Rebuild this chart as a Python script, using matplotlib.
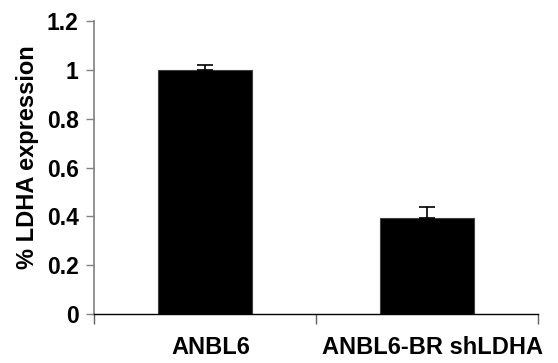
import matplotlib.pyplot as plt
import matplotlib.transforms as mtransforms

plt.rcParams['font.family'] = ['Liberation Sans', 'DejaVu Sans']
plt.rcParams['font.weight'] = 'bold'

# ------------ DATA -----------------
categories = ['ANBL6', 'ANBL6-BR shLDHA']
values = [1.0, 0.392]
errors = [0.018, 0.046]
yticks = [0, 0.2, 0.4, 0.6, 0.8, 1, 1.2]
ytick_labels = ['0', '0.2', '0.4', '0.6', '0.8', '1', '1.2']

# ------------ FIGURE -----------------
fig = plt.figure(figsize=(5.58, 3.63), dpi=100)
ax = fig.add_axes([0.1685, 0.135, 0.7955, 0.807])

pos = list(range(len(categories)))
ax.bar(pos, values, width=0.42, color='black', edgecolor='#404040',
       linewidth=0.8, zorder=2)
ax.errorbar(pos, values, yerr=[[0, 0], errors], fmt='none', ecolor='black',
            elinewidth=1.2, capsize=6, capthick=1.2, zorder=3)

ax.set_xlim(-0.5, 1.5)
ax.set_ylim(0, 1.2)
ax.set_yticks(yticks)
ax.set_yticklabels(ytick_labels, fontsize=16.5, fontweight='bold')
ax.set_xticks(pos)
ax.set_xticklabels(categories, fontsize=17, fontweight='bold')
ax.set_xticks([-0.5, 0.5, 1.5], minor=True)
ax.tick_params(axis='x', which='major', length=0, pad=16)
ax.tick_params(axis='x', which='minor', length=7, width=1, color='#606060',
               direction='out')
ax.tick_params(axis='y', length=6, width=1, color='#808080', pad=5)

# category labels sit a little right of the bar centres in the original
shift = mtransforms.ScaledTranslation(6 / 100, 0, fig.dpi_scale_trans)
for lbl in ax.get_xticklabels():
    lbl.set_transform(lbl.get_transform() + shift)

ax.set_ylabel('% LDHA expression', fontsize=17, fontweight='bold')
ax.yaxis.set_label_coords(-0.123, 0.536)

for s in ['top', 'right']:
    ax.spines[s].set_visible(False)
ax.spines['left'].set_color('#808080')
ax.spines['left'].set_linewidth(1.2)
ax.spines['bottom'].set_color('black')
ax.spines['bottom'].set_linewidth(1)

fig.savefig('out.png', dpi=100)
